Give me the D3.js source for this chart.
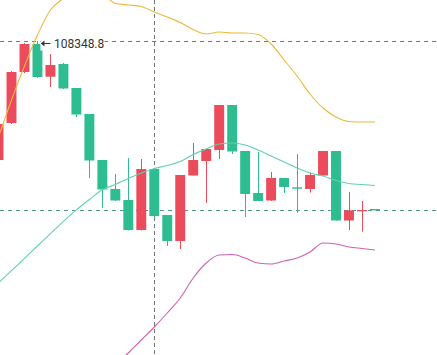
<!DOCTYPE html>
<html>
<head>
<meta charset="utf-8">
<script src="https://cdn.jsdelivr.net/npm/d3@7"></script>
<style>
  html, body { margin: 0; padding: 0; background: #fff; }
  svg { display: block; }
</style>
</head>
<body>
<div class="chart"></div>
<script>
var width = 437,
    height = 355;

// candle data: open, close, high, low
var opens  = [105969,106709,107729,108289,107635,107889,107409,106889,105969,105389,
              105169,104569,105789,104869,104349,105659,105949,106169,107069,106149,
              105309,105159,105609,105423,105389,105659,106149,104759,104943,104989];
var closes = [106689,107729,108289,107629,107869,107399,106879,105959,105379,105159,
              104569,105789,104849,104349,105669,105969,106189,107069,106139,105289,
              105149,105609,105429,105395,105669,106149,104759,104963,104969,104963];
var highs  = [106729,107749,108309,108348.8,108089,107909,107409,106889,105969,105689,
              106009,105989,105789,104869,105669,106309,106189,107069,107069,106149,
              106129,105729,105609,106089,105719,106149,106149,105329,105149,104989];
var lows   = [105929,106689,107709,107609,107429,107389,106829,105609,105009,105149,
              104559,104559,104809,104249,104189,105659,105109,105989,106089,104829,
              105149,105149,105309,104909,105319,105659,104759,104569,104535,104963];

// bollinger bands
var upperBand = [106429,107169,107849,108469,108969,109199,109369,109429,109309,109099,
                 109069,109039,108929,108829,108719,108579,108489,108529,108509,108509,
                 108479,108289,107969,107649,107289,107009,106829,106739,106729,106729];
var midBand   = [103509,103757,104001,104249,104497,104743,104973,105179,105373,105479,
                 105599,105709,105799,105859,105939,106079,106189,106289,106309,106269,
                 106169,106049,105929,105809,105709,105649,105559,105499,105479,105459];
var lowerBand = [100589,100349,100149,100029,100029,100289,100569,100929,101429,101849,
                 102109,102369,102629,102909,103209,103609,103909,104069,104079,104009,
                 103909,103889,103949,104009,104129,104309,104289,104229,104199,104169];

var slots = 34;          // visible slots incl. empty space on the right
var crossIndex = 12;
var crossPrice = 108348.8;

var upColor = "#eb4b5b",
    downColor = "#2ebd91";

var candles = opens.map(function(o, i){
    return {i: i, open: o, close: closes[i], high: highs[i], low: lows[i]};
});

var x = d3.scaleBand()
    .domain(d3.range(slots))
    .range([-9.5, -9.5 + slots * 13.07])
    .padding(0.235);

var y = d3.scaleLinear()
    .domain([109169, 102069])
    .range([0, height]);

function cx(i){ return x(i) + x.bandwidth() / 2; }

var svg = d3.select(".chart").append("svg")
    .attr("width", width)
    .attr("height", height);

// crosshair + last price line
var last = candles[candles.length - 1];
var lastColor = last.close >= last.open ? upColor : "#4c9c88";

svg.append("line")
    .attr("x1", 0).attr("x2", width)
    .attr("y1", Math.round(y(last.close)) + 0.5).attr("y2", Math.round(y(last.close)) + 0.5)
    .attr("stroke", lastColor)
    .attr("stroke-dasharray", "4,4");

svg.append("line")
    .attr("x1", Math.round(cx(crossIndex)) + 0.5).attr("x2", Math.round(cx(crossIndex)) + 0.5)
    .attr("y1", 0).attr("y2", height)
    .attr("stroke", "#777")
    .attr("stroke-dasharray", "4,3");

svg.append("line")
    .attr("x1", 0).attr("x2", width)
    .attr("y1", Math.round(y(crossPrice)) + 0.5).attr("y2", Math.round(y(crossPrice)) + 0.5)
    .attr("stroke", "#777")
    .attr("stroke-dasharray", "4,4");

// candles
var g = svg.append("g");

g.selectAll(".wick")
    .data(candles)
    .join("line")
    .attr("class", "wick")
    .attr("x1", function(d){ return Math.round(cx(d.i)) + 0.5; })
    .attr("x2", function(d){ return Math.round(cx(d.i)) + 0.5; })
    .attr("y1", function(d){ return y(d.high); })
    .attr("y2", function(d){ return y(d.low); })
    .attr("stroke", function(d){ return d.close >= d.open ? upColor : downColor; })
    .attr("stroke-width", 1);

g.selectAll(".body")
    .data(candles)
    .join("rect")
    .attr("class", "body")
    .attr("x", function(d){ return x(d.i); })
    .attr("width", x.bandwidth())
    .attr("y", function(d){ return y(Math.max(d.open, d.close)); })
    .attr("height", function(d){
        return Math.max(1.2, Math.abs(y(d.open) - y(d.close)));
    })
    .attr("fill", function(d){ return d.close >= d.open ? upColor : downColor; });

// bands
var line = d3.line()
    .x(function(d, i){ return cx(i); })
    .y(function(d){ return y(d); })
    .curve(d3.curveMonotoneX);

svg.append("path").datum(upperBand)
    .attr("d", line).attr("fill", "none")
    .attr("stroke", "#ecb83a").attr("stroke-width", 1.1);
svg.append("path").datum(midBand)
    .attr("d", line).attr("fill", "none")
    .attr("stroke", "#5fd0b2").attr("stroke-width", 1.1);
svg.append("path").datum(lowerBand)
    .attr("d", line).attr("fill", "none")
    .attr("stroke", "#cd62b2").attr("stroke-width", 1.1);

// highest high marker
var peak = candles.reduce(function(a, b){ return b.high > a.high ? b : a; });
var tx = x(peak.i) + x.bandwidth() - 2,
    ty = y(peak.high) + 2.5;

var lbl = svg.append("g");
lbl.append("rect")
    .attr("x", tx).attr("y", ty - 8)
    .attr("width", 64).attr("height", 15)
    .attr("fill", "#fff");
lbl.append("line")
    .attr("x1", tx + 1).attr("x2", tx + 10)
    .attr("y1", ty).attr("y2", ty)
    .attr("stroke", "#333").attr("stroke-width", 1);
lbl.append("path")
    .attr("d", "M" + (tx + 0.5) + "," + ty + "L" + (tx + 4) + "," + (ty - 3) + "L" + (tx + 4) + "," + (ty + 3) + "Z")
    .attr("fill", "#333");
lbl.append("text")
    .attr("x", tx + 13.5)
    .attr("y", ty + 4)
    .attr("font-family", "Roboto, 'Liberation Sans', sans-serif")
    .attr("font-size", "12px")
    .attr("fill", "#333")
    .text(d3.format(".1f")(peak.high));
</script>
</body>
</html>
